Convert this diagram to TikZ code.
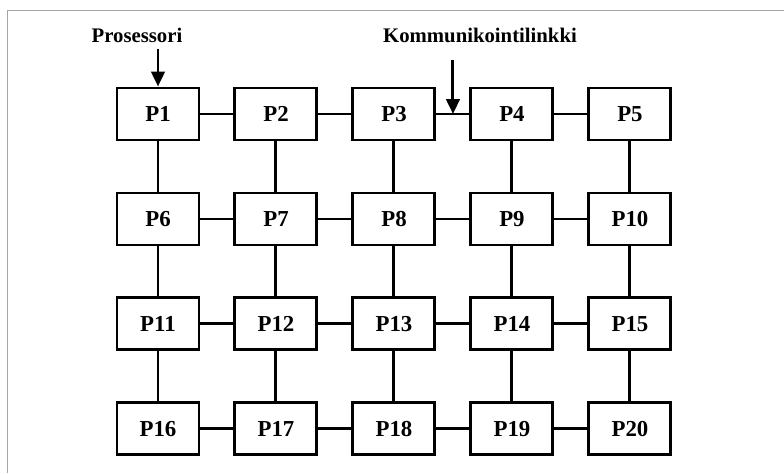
\documentclass[tikz,border=0pt]{standalone}
\usepackage{fontspec}
\setmainfont{Liberation Serif}
\usepackage{tikz}
\usetikzlibrary{positioning,calc,arrows.meta}

\begin{document}
\begin{tikzpicture}[proc block/.style={draw, rectangle, line width=1.7pt, minimum width=1.64cm, minimum height=1.04cm, align=center, font=\bfseries\fontsize{13}{15}\selectfont},
    link/.style={line width=1.7pt},
    pointer/.style={line width=1.7pt, -{Triangle[length=3mm,width=2.7mm]}},
    caption/.style={font=\bfseries\fontsize{11.8}{14}\selectfont},
    node distance=1.0cm and 0.66cm]
    \useasboundingbox (0,0) rectangle (15.68,-9.46);
    \draw[gray!70, line width=0.4pt] (0.14,-9.46) -- (0.14,-0.2) -- (15.68,-0.2);

    % processor grid
    \node[proc block] (p1) at (3.16,-2.28) {P1};
    \node[proc block, right=of p1] (p2) {P2};
    \node[proc block, right=of p2] (p3) {P3};
    \node[proc block, right=of p3] (p4) {P4};
    \node[proc block, right=of p4] (p5) {P5};
    \node[proc block, below=of p1] (p6) {P6};
    \node[proc block, right=of p6] (p7) {P7};
    \node[proc block, right=of p7] (p8) {P8};
    \node[proc block, right=of p8] (p9) {P9};
    \node[proc block, right=of p9] (p10) {P10};
    \node[proc block, below=of p6] (p11) {P11};
    \node[proc block, right=of p11] (p12) {P12};
    \node[proc block, right=of p12] (p13) {P13};
    \node[proc block, right=of p13] (p14) {P14};
    \node[proc block, right=of p14] (p15) {P15};
    \node[proc block, below=of p11] (p16) {P16};
    \node[proc block, right=of p16] (p17) {P17};
    \node[proc block, right=of p17] (p18) {P18};
    \node[proc block, right=of p18] (p19) {P19};
    \node[proc block, right=of p19] (p20) {P20};

    % links
    \foreach \a/\b in {1/2,2/3,3/4,4/5,6/7,7/8,8/9,9/10,11/12,12/13,13/14,14/15,16/17,17/18,18/19,19/20}
        \draw[link] (p\a) -- (p\b);
    \foreach \a/\b in {1/6,2/7,3/8,4/9,5/10,6/11,7/12,8/13,9/14,10/15,11/16,12/17,13/18,14/19,15/20}
        \draw[link] (p\a) -- (p\b);

    % labels
    \node[caption] (proc) at (2.74,-0.70) {Prosessori};
    \node[caption] (comm) at (9.6,-0.70) {Kommunikointilinkki};
    \coordinate (commlink) at ($(p3.east)!0.5!(p4.west)$);
    \coordinate (commtop) at ($(commlink |- comm.south)+(0,-0.22)$);
    \draw[pointer] (p1.north |- proc.south) -- (p1.north);
    \draw[pointer] (commtop) -- (commlink);
\end{tikzpicture}
\end{document}
